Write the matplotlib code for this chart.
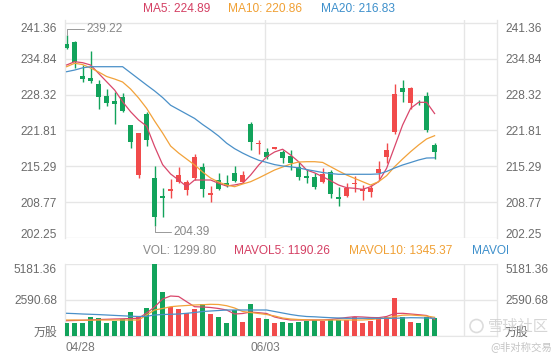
import numpy as np
import matplotlib
matplotlib.use("Agg")
import matplotlib.pyplot as plt
from matplotlib.patches import Ellipse
from matplotlib.transforms import Bbox, TransformedBbox

plt.rcParams["font.family"] = ["Liberation Sans", "Noto Sans CJK SC", "DejaVu Sans"]

# daily candles
opens = [237.49, 237.96, 231.72, 231.41, 230.26, 228.08, 227.17, 227.84, 222.80, 213.71,
         224.75, 213.11, 209.89, 210.80, 212.49, 210.98, 213.11, 215.11, 210.00, 212.80,
         212.20, 214.00, 212.49, 222.99, 219.40, 217.95, 218.38, 217.95, 217.17, 215.11,
         213.53, 213.29, 212.38, 214.31, 209.70, 209.94, 212.02, 210.74, 210.67, 214.00,
         217.04, 221.58, 229.48, 226.75, 226.98, 228.08, 219.17]
closes = [236.87, 234.32, 231.12, 230.81, 227.95, 226.86, 226.57, 225.35, 219.66, 221.29,
          220.08, 206.12, 209.52, 211.16, 213.71, 212.49, 217.04, 211.16, 210.38, 211.16,
          211.76, 212.67, 213.80, 219.66, 219.59, 217.04, 218.86, 216.86, 215.84, 213.40,
          213.11, 211.58, 213.84, 210.20, 209.34, 211.40, 212.20, 211.10, 211.29, 214.80,
          218.26, 228.44, 228.75, 229.59, 226.90, 221.89, 217.84]
highs = [239.22, 238.09, 233.72, 236.27, 231.00, 229.35, 228.75, 228.68, 222.80, 221.29,
         225.22, 215.40, 211.29, 212.98, 215.10, 212.80, 217.47, 215.84, 211.76, 214.00,
         213.71, 215.34, 214.40, 223.30, 220.08, 218.56, 218.86, 218.26, 218.26, 216.13,
         214.62, 214.00, 215.04, 214.62, 211.58, 212.20, 213.58, 211.89, 211.89, 216.25,
         219.59, 230.21, 231.00, 229.77, 227.35, 228.75, 219.59]
lows = [236.63, 233.10, 230.57, 230.50, 225.66, 226.30, 222.93, 225.22, 218.56, 213.11,
        219.04, 204.39, 206.12, 209.47, 212.20, 210.07, 212.80, 209.76, 208.74, 210.98,
        211.58, 212.49, 212.30, 218.26, 217.47, 216.62, 218.38, 215.84, 214.62, 212.80,
        212.20, 211.16, 212.20, 209.58, 208.12, 209.76, 210.56, 209.16, 209.76, 212.98,
        215.84, 221.17, 226.93, 225.66, 226.44, 221.59, 216.56]

ma5 = [233.72, 234.32, 234.14, 233.72, 232.20, 230.68, 229.17, 227.04, 225.22, 223.71,
       222.60, 218.90, 215.60, 213.90, 212.80, 211.60, 212.80, 212.80, 212.80, 212.20,
       211.70, 211.90, 212.20, 213.70, 215.50, 217.00, 217.90, 218.40, 217.35, 216.13,
       214.62, 214.10, 213.40, 212.67, 211.89, 211.40, 211.29, 211.10, 211.58, 212.49,
       214.92, 218.86, 222.80, 225.84, 226.93, 226.93, 224.89]
ma10 = [233.41, 234.03, 233.80, 233.17, 232.45, 231.63, 231.17, 230.63, 229.35, 227.72,
        225.84, 223.53, 221.35, 218.98, 217.71, 216.62, 215.53, 214.26, 213.16, 212.43,
        211.89, 211.58, 212.07, 212.49, 213.16, 213.89, 214.62, 215.16, 215.71, 216.07,
        216.13, 216.13, 216.00, 215.22, 214.44, 213.71, 213.10, 212.49, 211.89, 212.49,
        213.58, 215.22, 216.62, 217.95, 219.17, 220.27, 220.86]
ma20 = [232.50, 232.80, 233.20, 233.41, 233.41, 233.41, 233.41, 233.41, 232.30, 231.19,
        230.08, 229.00, 227.80, 226.40, 225.60, 224.80, 224.00, 222.90, 221.90, 220.80,
        219.50, 218.50, 217.70, 217.00, 216.40, 216.00, 215.60, 215.35, 215.20, 215.00,
        214.70, 214.44, 214.16, 213.98, 213.84, 213.84, 213.84, 213.84, 213.84, 213.90,
        214.35, 214.98, 215.53, 215.98, 216.44, 216.80, 216.83]

volumes = [912, 960, 960, 1343, 1319, 960, 1103, 1199, 1703, 1343,
           2039, 5181.36, 3142, 2063, 1943, 1679, 1919, 2279, 1559, 1391,
           912, 1871, 1031, 2303, 1319, 1223, 912, 983, 912, 1031,
           1079, 1151, 1103, 1199, 1151, 1151, 1367, 960, 1103, 1367,
           1367, 2759, 1367, 1031, 960, 1343, 1299.80]
mavol5 = [1101, 1115, 1130, 1151, 1187, 1202, 1223, 1238, 1259, 1274,
          1655, 2087, 2663, 2878, 2842, 2468, 2108, 2087, 2051, 1979,
          1871, 1583, 1619, 1727, 1677, 1619, 1367, 1238, 1151, 1151,
          1151, 1151, 1151, 1187, 1259, 1331, 1389, 1367, 1331, 1317,
          1403, 1619, 1633, 1583, 1533, 1475, 1190.26]
mavol10 = [1151, 1151, 1140, 1140, 1151, 1151, 1151, 1151, 1151, 1151,
           1511, 1871, 1979, 2108, 2159, 2195, 2231, 2252, 2281, 2267,
           2180, 2015, 1763, 1691, 1619, 1547, 1439, 1295, 1223, 1187,
           1166, 1151, 1151, 1151, 1151, 1151, 1151, 1151, 1187, 1238,
           1295, 1403, 1497, 1511, 1475, 1439, 1345.37]
mavol20 = [1634, 1612, 1583, 1562, 1540, 1511, 1482, 1454, 1425, 1403,
           1418, 1511, 1547, 1562, 1583, 1634, 1691, 1763, 1799, 1835,
           1871, 1871, 1871, 1871, 1871, 1871, 1763, 1655, 1547, 1461,
           1403, 1382, 1346, 1317, 1295, 1274, 1274, 1274, 1274, 1274,
           1274, 1274, 1295, 1317, 1310, 1295, 1274]

price_ticks = [202.25, 208.77, 215.29, 221.81, 228.32, 234.84, 241.36]
vol_ticks = [0, 2590.68, 5181.36]
vol_tick_labels = ["万股", "2590.68", "5181.36"]
date_labels = ["04/28", "06/03"]

RED = "#f14b4b"
GREEN = "#12a35b"
C_MA5 = "#d9476b"
C_MA10 = "#f2a23a"
C_MA20 = "#4a90c8"
GRID = "#e6e6e6"
TXT = "#6b6b6b"

W, H = 560, 360
fig = plt.figure(figsize=(W / 100, H / 100), dpi=100)


def px_axes(x0, y0, x1, y1):
    return fig.add_axes([x0 / W, 1 - y1 / H, (x1 - x0) / W, (y1 - y0) / H])


ax = px_axes(65, 20, 497, 238)
axv = px_axes(65, 264, 497, 336)

x = np.arange(len(closes))
o = np.array(opens)
c = np.array(closes)
colors = np.where(c > o, RED, GREEN)

# candles
ax.vlines(x, lows, highs, color=colors, lw=1, zorder=3)
body_lo = np.minimum(o, c)
body_h = np.maximum(np.abs(c - o), 0.16)
ax.bar(x, body_h, bottom=body_lo, width=0.66, color=colors, lw=0, zorder=3)

ax.plot(x, ma5, color=C_MA5, lw=0.9, zorder=4)
ax.plot(x, ma10, color=C_MA10, lw=0.9, zorder=4)
ax.plot(x, ma20, color=C_MA20, lw=0.9, zorder=4)

# volume
axv.bar(x, volumes, width=0.72, color=colors, lw=0, zorder=3)
axv.plot(x, mavol5, color=C_MA5, lw=0.9, zorder=4)
axv.plot(x, mavol10, color=C_MA10, lw=0.9, zorder=4)
axv.plot(x, mavol20, color=C_MA20, lw=0.9, zorder=4)

x_left, x_right = -0.2, 53.8
grid_x = [24.8, 49.7]

ax.set_ylim(202.25, 241.36 + 3 / (215 / (241.36 - 202.25)))
ax.set_yticks(price_ticks)
ax.set_yticklabels([f"{t:.2f}" for t in price_ticks])
axv.set_ylim(0, 5181.36)
axv.set_yticks(vol_ticks)
axv.set_yticklabels(vol_tick_labels)

for a in (ax, axv):
    a.set_xlim(x_left, x_right)
    a.grid(axis="y", color=GRID, lw=1, zorder=0)
    for gx in grid_x:
        a.axvline(gx, color=GRID, lw=1, zorder=0)
    for side in ("top", "bottom"):
        a.spines[side].set_visible(False)
    for side in ("left", "right"):
        a.spines[side].set_color(GRID)
        a.spines[side].set_linewidth(1)
    a.tick_params(axis="y", length=0, labelsize=8.6, labelcolor=TXT,
                  labelleft=True, labelright=True, pad=5.8)
    ticks = a.yaxis.get_major_ticks()
    # edge labels sit inside the panel
    ticks[0].label1.set_va("baseline")
    ticks[0].label2.set_va("baseline")
    ticks[-1].label1.set_va("top")
    ticks[-1].label2.set_va("top")

ax.set_xticks([])
axv.spines["bottom"].set_visible(True)
axv.spines["bottom"].set_color(GRID)
axv.set_xticks([x_left, grid_x[0]])
axv.set_xticklabels(date_labels)
axv.tick_params(axis="x", length=0, labelsize=8.6, labelcolor="#777777", pad=4)
xl = axv.get_xticklabels()
xl[0].set_ha("left")
xl[1].set_ha("center")

# high / low markers
i_hi = int(np.argmax(highs))
i_lo = int(np.argmin(lows))
ax.annotate(f"{highs[i_hi]:.2f}", xy=(i_hi, highs[i_hi]), xytext=(14.4, 4.3),
            textcoords="offset points", ha="left", va="center", fontsize=8.6, color="#888888",
            arrowprops=dict(arrowstyle="-", color="#999999", lw=0.7, shrinkA=0, shrinkB=0,
                            relpos=(0, 0.5), connectionstyle="angle,angleA=0,angleB=90,rad=0"))
ax.annotate(f"{lows[i_lo]:.2f}", xy=(i_lo, lows[i_lo]), xytext=(13.5, -3.8),
            textcoords="offset points", ha="left", va="center", fontsize=8.6, color="#888888",
            arrowprops=dict(arrowstyle="-", color="#999999", lw=0.7, shrinkA=0, shrinkB=0,
                            relpos=(0, 0.5), connectionstyle="angle,angleA=0,angleB=90,rad=0"))


# header rows
def row_text(px, py, s, color):
    return fig.text(px / W, 1 - py / H, s, ha="left", va="center", fontsize=8.6, color=color)


row_text(142.7, 9.5, f"MA5: {ma5[-1]:.2f}", "#d43f63")
row_text(228.3, 9.5, f"MA10: {ma10[-1]:.2f}", "#f0a034")
row_text(320.7, 9.5, f"MA20: {ma20[-1]:.2f}", "#3d8fcb")

row_text(142.7, 250.5, f"VOL: {volumes[-1]:.2f}", "#8a8a8a")
row_text(234.3, 250.5, f"MAVOL5: {mavol5[-1]:.2f}", "#d43f63")
row_text(349.3, 250.5, f"MAVOL10: {mavol10[-1]:.2f}", "#f0a034")
t = row_text(472.3, 250.5, f"MAVOL20: {mavol20[-1]:.2f}", "#3d8fcb")
# the last header entry is cut off in the source chart
t.set_clip_box(TransformedBbox(Bbox([[0, 0], [508 / W, 1]]), fig.transFigure))
t.set_clip_on(True)

# watermark
fig.add_artist(Ellipse((476.5 / W, 1 - 326 / H), 13 / W, 13 / H, transform=fig.transFigure,
                       fill=False, ec="#d4d4d4", lw=1.2, alpha=0.8))
fig.text(488 / W, 1 - 326 / H, "雪球社区", ha="left", va="center", fontsize=11,
         color="#cfcfcf", alpha=0.85, family=["Noto Sans CJK SC"])
fig.text(490 / W, 1 - 347 / H, "@非对称交易", ha="left", va="center", fontsize=7.5,
         color="#c4c4c4", family=["Noto Sans CJK SC"])

fig.savefig("out.png", dpi=100)
